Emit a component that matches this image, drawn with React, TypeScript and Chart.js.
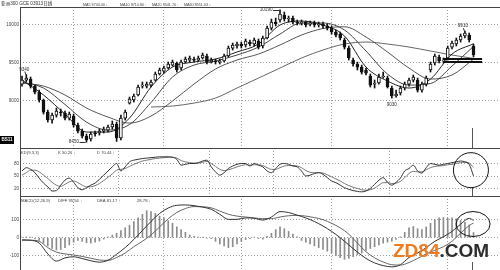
import React, { useEffect, useRef } from 'react';
import { Chart, registerables } from 'chart.js';
Chart.register(...registerables);

// ---------------- data ----------------
const OPEN = [9214,9267,9280,9188,9109,9004,8846,8741,8806,8846, 8833,8767,8793,8675,8596,8530,8491,8570,8570,8596, 8609,8649,8688,8504,8767,8964,9004,9070,9188,9188, 9201,9267,9346,9385,9425,9464,9491,9425,9504,9530, 9543,9530,9557,9583,9504,9517,9504,9517,9583,9688, 9715,9741,9728,9767,9741,9780,9715,9820,9951,10030, 10057,10122,10070,10083,10030,10017,10030,10004,10017,9991, 10004,9978,9951,9899,9872,9794,9688,9530,9478,9438, 9399,9320,9214,9228,9307,9293,9162,9057,9096,9162, 9214,9267,9267,9135,9214,9399,9491,9570,9517,9557, 9701,9741,9794,9846,9859,9715];
const CLOSE = [9267,9293,9188,9109,9004,8846,8741,8806,8859,8833, 8767,8820,8675,8596,8530,8478,8557,8557,8596,8622, 8649,8688,8504,8767,8846,9017,9057,9175,9201,9214, 9241,9346,9399,9425,9478,9504,9399,9504,9543,9557, 9530,9557,9596,9504,9530,9504,9517,9583,9688,9728, 9741,9715,9780,9741,9794,9701,9820,9951,10030,10004, 10136,10070,10083,10030,10017,10030,9991,10017,9991,10004, 9978,9951,9899,9859,9820,9701,9557,9478,9438,9372, 9359,9201,9228,9307,9320,9175,9057,9083,9162,9214, 9267,9307,9135,9214,9293,9478,9583,9517,9530,9688, 9754,9794,9846,9886,9794,9596];
const HIGH = [9320,9340,9307,9201,9135,9017,8872,8833,8899,8886, 8859,8846,8820,8701,8622,8557,8583,8596,8622,8649, 8675,8728,8714,8806,8872,9043,9083,9201,9241,9241, 9267,9372,9425,9451,9504,9530,9504,9530,9570,9583, 9570,9583,9622,9609,9557,9543,9543,9609,9715,9754, 9767,9767,9807,9794,9820,9807,9846,9978,10070,10083, 10190,10162,10109,10109,10057,10057,10043,10043,10043,10030, 10030,10004,9978,9925,9899,9820,9715,9557,9504,9464, 9425,9346,9267,9346,9372,9320,9188,9135,9188,9241, 9293,9333,9293,9241,9320,9504,9609,9596,9557,9715, 9780,9820,9872,9910,9886,9741];
const LOW = [9188,9241,9162,9083,8977,8820,8714,8701,8780,8793, 8741,8741,8649,8570,8504,8450,8464,8530,8543,8570, 8583,8622,8460,8478,8741,8951,8977,9057,9162,9162, 9175,9254,9333,9359,9412,9451,9372,9399,9491,9504, 9504,9517,9543,9478,9491,9478,9478,9504,9570,9662, 9688,9688,9701,9715,9715,9675,9688,9807,9925,9978, 10030,10043,10030,10004,9991,9991,9965,9978,9965,9965, 9951,9925,9872,9833,9794,9675,9530,9451,9399,9346, 9333,9175,9162,9214,9293,9162,9030,9043,9070,9135, 9188,9241,9109,9109,9188,9372,9464,9491,9491,9530, 9675,9715,9767,9820,9767,9570];

const MA_IDX = [0,5,10,15,20,25,30,35,40,45,50,55,60,65,70,75,80,85,90,95,100,105];
const MA5 = [9267,9070,8820,8583,8583,8767,9175,9438,9504,9543,9636,9741,9991,10043,9991,9846,9438,9254,9162,9280,9609,9744.40];
const MA10 = [9241,9162,8945,8714,8609,8682,8971,9307,9464,9517,9596,9701,9872,10017,10017,9925,9649,9346,9201,9221,9451,9710.80];
const MA20 = [9228,9188,9070,8899,8780,8701,8793,8991,9214,9412,9530,9609,9728,9859,9945,9968,9833,9636,9425,9280,9333,9541.70];
const MA60_IDX = [30,35,40,45,50,55,60,65,70,75,80,85,90,95,100,105];
const MA60 = [8912,8925,8964,9030,9162,9293,9425,9557,9662,9741,9767,9741,9701,9649,9596,9551.03];
const MA_NAMES = ['MA5', 'MA10', 'MA20', 'MA60'];
const MA_ARROWS = ['↓', '↑', '↑', '↓'];

const SUPPORT_LEVELS = [9543, 9504];
const SUPPORT_RANGE = [98, 107];

const K = [62,70,66,58,45,33,24,14,15,28, 40,45,35,22,17,22,28,33,42,52, 62,72,80,62,72,84,88,90,92,93, 94,95,96,96,96,95,90,76,78,80, 80,82,86,88,72,60,52,58,68,74, 78,80,80,74,80,76,72,62,58,68, 78,80,78,74,72,62,50,52,56,58, 54,46,38,34,28,22,18,15,13,12, 14,20,30,40,46,35,28,35,45,62, 68,76,62,57,70,80,78,76,78,80, 82,84,86,84,78,50.26];
const D = [52,58,64,64,60,52,44,35,28,25, 30,36,38,34,28,24,24,27,32,39, 47,55,64,66,68,73,78,82,86,88, 90,92,93,94,95,95,93,87,84,82, 81,81,83,85,80,73,66,63,65,68, 72,75,77,76,77,77,75,70,66,66, 70,74,75,75,74,70,63,59,58,58, 57,53,48,43,38,32,27,23,20,17, 16,17,21,28,34,34,32,33,37,46, 56,61,60,60,65,70,73,74,75,77, 78,80,82,83,81,70.44];

const MACD_IDX = [0,2,4,6,8,10,12,14,16,18, 20,22,24,26,28,30,32,34,36,38, 40,42,44,46,48,50,52,54,56,58, 60,62,64,66,68,70,72,74,76,78, 80,82,84,86,88,90,92,94,96,98, 100,102,104,105];
const DIFF = [-12,-14,-30,-90,-130,-112,-106,-116,-128,-136, -125,-92,-55,-10,40,90,135,165,180,182, 178,170,158,130,102,102,110,108,98,115, 145,140,125,110,90,65,35,0,-40,-80, -115,-140,-155,-162,-150,-110,-85,-55,-20,5, 35,75,108,95.56];
const DEA = [-14,-14,-20,-55,-80,-90,-96,-104,-114,-124, -126,-110,-85,-50,-20,15,60,105,140,162, 173,172,166,148,130,120,115,110,106,106, 115,122,124,120,112,100,80,55,20,-30, -78,-112,-135,-150,-152,-138,-115,-90,-70,-50, -20,25,68,81.17];
const HIST = [3,5,2,-5,-15,-30,-45,-60,-68,-65, -55,-40,-25,-15,-20,-28,-30,-25,-18,-8, 5,15,25,40,55,70,90,110,130,150, 145,135,120,110,95,80,60,45,30,15, 8,4,2,-3,-5,-20,-35,-45,-55,-50, -35,-20,-10,-5,3,-5,-8,8,25,45, 60,50,35,20,5,-15,-25,-35,-45,-55, -65,-75,-85,-100,-110,-120,-115,-105,-95,-85, -70,-60,-50,-40,-30,-25,-20,-10,5,30, 55,62,50,45,60,80,100,110,112,108, 110,105,95,85,70,28.78];

const PRICE_TICKS = [9000, 9500, 10000];
const KD_TICKS = [20, 50, 80];
const MACD_TICKS = [-100, 0, 100];
const MONTH_STARTS = [23, 44, 59, 86];

const PEAK_LABELS = [
  { i: 1, kind: 'high', place: 'above' },
  { i: 15, kind: 'low', place: 'left' },
  { i: 60, kind: 'high', place: 'left' },
  { i: 86, kind: 'low', place: 'below' },
  { i: 103, kind: 'high', place: 'above' },
];

const TITLE = '亚洲300 GCE 03913日线';
const PANEL_TAG = 'BS11';
const KD_CIRCLE = { i: 104.4, v: 64, rx: 17.5, ry: 17.5 };
const MACD_CIRCLE = { i: 104.9, v: 76, rx: 17, ry: 12.5 };
const CURSOR_I = 104.6;

// ---------------- styling helpers ----------------
const W = 500;
const X_MIN = -0.465;
const X_MAX = 111.16;
const FONT = '"Liberation Sans", Arial, "Noto Sans CJK SC", sans-serif';
const TXT = '#444';
const GRID = '#9a9a9a';

function txt(ctx: CanvasRenderingContext2D, s: string, x: number, y: number, size = 4.6, align: CanvasTextAlign = 'left', color = TXT, weight = 'normal') {
  ctx.font = `${weight} ${size}px ${FONT}`;
  ctx.fillStyle = color;
  ctx.textAlign = align;
  ctx.textBaseline = 'middle';
  ctx.fillText(s, x, y);
}
function seg(ctx: CanvasRenderingContext2D, x1: number, y1: number, x2: number, y2: number, color = '#333', w = 1) {
  ctx.strokeStyle = color;
  ctx.lineWidth = w;
  ctx.beginPath();
  ctx.moveTo(x1, y1);
  ctx.lineTo(x2, y2);
  ctx.stroke();
}

function xScale(): any {
  return {
    type: 'linear', min: X_MIN, max: X_MAX, offset: false,
    ticks: { display: false },
    grid: { color: GRID, lineWidth: 1, drawTicks: false },
    border: { display: false, dash: [1, 2] },
    afterBuildTicks: (s: any) => { s.ticks = MONTH_STARTS.map((m) => ({ value: m - 0.5 })); },
    afterFit: (s: any) => { s.height = 0; s.paddingLeft = 0; s.paddingRight = 0; },
  };
}
function yScale(min: number, max: number, ticks: number[]): any {
  return {
    type: 'linear', min, max, position: 'left',
    ticks: { font: { size: 4.6, family: FONT }, color: TXT, padding: 1, autoSkip: false, callback: (v: any) => String(v) },
    grid: { color: GRID, lineWidth: 1, drawTicks: false },
    border: { display: false, dash: [1, 2] },
    afterBuildTicks: (s: any) => { s.ticks = ticks.map((v) => ({ value: v })); },
    afterFit: (s: any) => { s.width = 20; s.paddingTop = 0; s.paddingBottom = 0; },
  };
}
function frame(ctx: CanvasRenderingContext2D, a: any) {
  seg(ctx, a.left, a.top + 0.5, W, a.top + 0.5, '#444');
  seg(ctx, a.left + 0.5, a.top, a.left + 0.5, a.bottom, '#444');
}
function cursor(ctx: CanvasRenderingContext2D, chart: any, len: number) {
  const x = Math.round(chart.scales.x.getPixelForValue(CURSOR_I)) + 0.5;
  seg(ctx, x, chart.chartArea.bottom - len, x, chart.chartArea.bottom, '#555');
}
function ellipse(ctx: CanvasRenderingContext2D, chart: any, c: any) {
  const cx = chart.scales.x.getPixelForValue(c.i);
  const cy = chart.scales.y.getPixelForValue(c.v);
  ctx.strokeStyle = '#111';
  ctx.lineWidth = 1;
  ctx.beginPath();
  ctx.ellipse(cx, cy, c.rx, c.ry, 0, 0, Math.PI * 2);
  ctx.stroke();
}
const baseOptions = (scales: any): any => ({
  responsive: false,
  animation: false,
  events: [],
  layout: { padding: 0 },
  plugins: { legend: { display: false }, tooltip: { enabled: false } },
  scales,
});
const lineDs = (xs: number[], ys: number[], color: string): any => ({
  type: 'line',
  data: xs.map((x, k) => ({ x, y: ys[k] })),
  borderColor: color,
  borderWidth: 1,
  pointRadius: 0,
  cubicInterpolationMode: 'monotone',
  fill: false,
});

// ---------------- charts ----------------
function mainConfig(): any {
  const idx = OPEN.map((_, i) => i);
  const up = idx.map((i) => CLOSE[i] >= OPEN[i]);
  const maColors = ['#222', '#444', '#555', '#666'];
  const maLines = [MA5, MA10, MA20].map((arr, k) => lineDs(MA_IDX, arr, maColors[k]));
  maLines.push(lineDs(MA60_IDX, MA60, maColors[3]));
  const supports = SUPPORT_LEVELS.map((lv) => ({
    type: 'line', data: SUPPORT_RANGE.map((x) => ({ x, y: lv })), borderColor: '#111', borderWidth: 2, pointRadius: 0,
  }));
  const opts = baseOptions({ x: xScale(), y: yScale(8373, 10228, PRICE_TICKS) });
  opts.layout = { padding: { top: 7 } };
  return {
    type: 'bar',
    data: {
      datasets: [
        { type: 'bar', data: idx.map((i) => ({ x: i, y: [OPEN[i], CLOSE[i]] })), backgroundColor: up.map((u) => (u ? '#fff' : '#111')), borderColor: '#111', borderWidth: 1, borderSkipped: false, barThickness: 3, grouped: false },
        { type: 'bar', data: idx.map((i) => ({ x: i, y: [LOW[i], HIGH[i]] })), backgroundColor: '#111', borderWidth: 0, barThickness: 1, grouped: false },
        ...supports,
        ...maLines,
      ],
    },
    options: opts,
    plugins: [{
      id: 'mainDecor',
      afterDraw(chart: any) {
        const { ctx, chartArea: a, scales } = chart;
        ctx.save();
        frame(ctx, a);
        txt(ctx, TITLE, 1, 3.5, 4.6, 'left', '#333');
        const mas = [MA5, MA10, MA20, MA60];
        const hx = [83, 120, 152, 184];
        mas.forEach((arr, k) => txt(ctx, `${MA_NAMES[k]} ${arr[arr.length - 1].toFixed(2)} ${MA_ARROWS[k]}`, hx[k], 4.5, 3.7));
        PEAK_LABELS.forEach((p) => {
          const v = p.kind === 'high' ? HIGH[p.i] : LOW[p.i];
          const px = scales.x.getPixelForValue(p.i);
          const py = scales.y.getPixelForValue(v);
          const s = String(Math.round(v));
          if (p.place === 'left') {
            seg(ctx, px - 7, Math.round(py) + 0.5, px - 1, Math.round(py) + 0.5, '#333');
            txt(ctx, s, px - 7.5, py, 4.6, 'right', '#333');
          } else if (p.place === 'above') {
            seg(ctx, px - 1.5, py - 3, px - 0.5, py, '#333');
            txt(ctx, s, px - 2, py - 5, 4.6, 'center', '#333');
          } else {
            txt(ctx, s, px, py + 7, 4.6, 'center', '#333');
          }
        });
        ctx.fillStyle = '#000';
        ctx.fillRect(0, 136, 14, 8);
        txt(ctx, PANEL_TAG, 7, 140, 4.6, 'center', '#fff', 'bold');
        cursor(ctx, chart, 20);
        ctx.restore();
      },
    }],
  };
}

function kdConfig(): any {
  const idx = K.map((_, i) => i);
  return {
    type: 'line',
    data: { datasets: [lineDs(idx, K, '#333'), lineDs(idx, D, '#777')] },
    options: baseOptions({ x: xScale(), y: yScale(2, 117.2, KD_TICKS) }),
    plugins: [{
      id: 'kdDecor',
      afterDraw(chart: any) {
        const { ctx, chartArea: a } = chart;
        ctx.save();
        frame(ctx, a);
        txt(ctx, 'KD(9,3,3)', 21, 4.5, 4.2);
        txt(ctx, `K ${K[K.length - 1].toFixed(2)} ↓`, 58, 4.5, 4.2);
        txt(ctx, `D ${D[D.length - 1].toFixed(2)} ↓`, 97, 4.5, 4.2);
        ellipse(ctx, chart, KD_CIRCLE);
        cursor(ctx, chart, 8);
        ctx.restore();
      },
    }],
  };
}

function macdConfig(): any {
  const idx = HIST.map((_, i) => i);
  return {
    type: 'bar',
    data: {
      datasets: [
        lineDs(MACD_IDX, DIFF, '#333'),
        lineDs(MACD_IDX, DEA, '#666'),
        { type: 'bar', data: idx.map((i) => ({ x: i, y: HIST[i] })), backgroundColor: '#8c8c8c', borderWidth: 0, barThickness: 1, grouped: false },
      ],
    },
    options: baseOptions({ x: xScale(), y: yScale(-179.4, 231.7, MACD_TICKS) }),
    plugins: [{
      id: 'macdDecor',
      afterDraw(chart: any) {
        const { ctx, chartArea: a } = chart;
        ctx.save();
        frame(ctx, a);
        txt(ctx, 'MACD(12,26,9)', 21, 4.5, 4.2);
        txt(ctx, `DIFF ${DIFF[DIFF.length - 1].toFixed(2)} ↓`, 58, 4.5, 4.2);
        txt(ctx, `DEA ${DEA[DEA.length - 1].toFixed(2)} ↑`, 97, 4.5, 4.2);
        txt(ctx, `${HIST[HIST.length - 1].toFixed(2)} ↓`, 137, 4.5, 4.2);
        ellipse(ctx, chart, MACD_CIRCLE);
        cursor(ctx, chart, 8);
        // watermark
        ctx.font = `bold 19px "Liberation Sans", Arial, sans-serif`;
        ctx.textAlign = 'left';
        ctx.textBaseline = 'alphabetic';
        ctx.fillStyle = '#f07a1c';
        ctx.fillText('ZD84', 393, 61);
        const w = ctx.measureText('ZD84').width;
        ctx.fillStyle = '#2e2e2e';
        ctx.fillText('.COM', 393 + w, 61);
        ctx.restore();
      },
    }],
  };
}

export default function App() {
  const mainRef = useRef<HTMLCanvasElement>(null);
  const kdRef = useRef<HTMLCanvasElement>(null);
  const macdRef = useRef<HTMLCanvasElement>(null);
  useEffect(() => {
    const charts = [
      new Chart(mainRef.current as HTMLCanvasElement, mainConfig()),
      new Chart(kdRef.current as HTMLCanvasElement, kdConfig()),
      new Chart(macdRef.current as HTMLCanvasElement, macdConfig()),
    ];
    return () => charts.forEach((c) => c.destroy());
  }, []);
  const cs: React.CSSProperties = { position: 'absolute', left: 0, display: 'block' };
  return (
    <div style={{ position: 'fixed', left: 0, top: 0, width: 500, height: 270, background: '#fff', overflow: 'hidden' }}>
      <canvas ref={mainRef} width={500} height={148} style={{ ...cs, top: 0, width: 500, height: 148 }} />
      <canvas ref={kdRef} width={500} height={48} style={{ ...cs, top: 148, width: 500, height: 48 }} />
      <canvas ref={macdRef} width={500} height={74} style={{ ...cs, top: 196, width: 500, height: 74 }} />
    </div>
  );
}
